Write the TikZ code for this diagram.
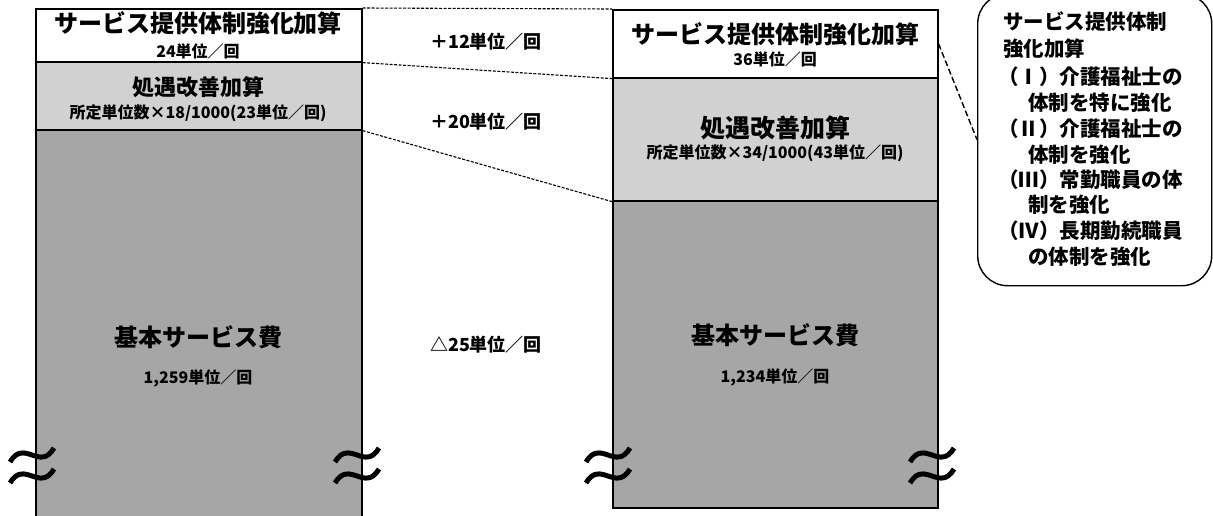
\documentclass[tikz,border=0pt]{standalone}
\usepackage{fontspec}
\setmainfont{Noto Sans CJK JP}
\begin{document}
\begin{tikzpicture}[x=1pt,y=-1pt,
  box/.style={draw=black, line width=1.6pt, inner sep=0pt, anchor=north west},
  dline/.style={line width=1.1pt, dash pattern=on 3pt off 1.5pt},
  cline/.style={line width=1.4pt, dash pattern=on 6pt off 3pt},
  big/.style={inner sep=0pt, font=\fontsize{24}{28}\selectfont\bfseries},
  mid/.style={inner sep=0pt, font=\fontsize{18}{22}\selectfont\bfseries},
  small/.style={inner sep=0pt, font=\fontsize{16}{19}\selectfont\bfseries},
  note/.style={inner sep=0pt, anchor=west, font=\fontsize{20.5}{24}\selectfont\bfseries},
  wave/.pic={\draw[line width=5pt] (-22,7) .. controls (-8,-17) and (8,17) .. (22,-7);}
]
\definecolor{lgray}{gray}{0.82}
\definecolor{mgray}{gray}{0.65}
\useasboundingbox (0,0) rectangle (1213,515);
\clip (0,0) rectangle (1213,515);
\fill[white] (0,0) rectangle (1213,515);

% left column
\node[box, fill=mgray, minimum width=326pt, minimum height=400pt] (L3) at (35,129) {};
\node[box, fill=lgray, minimum width=326pt, minimum height=68pt] (L2) at (35,61) {};
\node[box, fill=white, minimum width=326pt, minimum height=53pt] (L1) at (35,8) {};

% right column
\node[box, fill=mgray, minimum width=325pt, minimum height=307pt] (R3) at (612,200) {};
\node[box, fill=lgray, minimum width=325pt, minimum height=123pt] (R2) at (612,77) {};
\node[box, fill=white, minimum width=325pt, minimum height=68pt] (R1) at (612,9) {};

% callout
\node[box, line width=1.4pt, rounded corners=30pt, minimum width=234pt, minimum height=292pt] (C) at (977,-7) {};

% dashed connectors
\draw[dline] (L1.north east) -- (R1.north west);
\draw[dline] (L1.south east) -- (R1.south west);
\draw[dline] (L2.south east) -- (R2.south west);
\draw[cline] (R1.east) -- (C.west);

% left texts
\node[big] (lt1) at (198,23) {サービス提供体制強化加算};
\node[small] (lt2) at (198,51) {24単位／回};
\node[big, font=\fontsize{22}{26}\selectfont\bfseries] (lt3) at (198,87) {処遇改善加算};
\node[small] (lt4) at (198,113) {所定単位数×18/1000(23単位／回)};
\node[big] (lt5) at (198,337) {基本サービス費};
\node[small] (lt6) at (198,378) {1,259単位／回};

% right texts
\node[big] (rt1) at (775,34) {サービス提供体制強化加算};
\node[small] (rt2) at (775,59) {36単位／回};
\node[big, font=\fontsize{25}{29}\selectfont\bfseries] (rt3) at (775,128) {処遇改善加算};
\node[small] (rt4) at (775,153) {所定単位数×34/1000(43単位／回)};
\node[big] (rt5) at (775,335) {基本サービス費};
\node[small] (rt6) at (775,377) {1,234単位／回};

% middle texts
\node[mid] (m1) at (486,42) {＋12単位／回};
\node[mid] (m2) at (486,122) {＋20単位／回};
\node[mid] (m3) at (486,345) {△25単位／回};

% callout texts
\node[note] (c1) at (1003,22) {サービス提供体制};
\node[note] (c2) at (1003,49) {強化加算};
\node[note] (c3) at (998,77) {（Ⅰ）介護福祉士の};
\node[note] (c4) at (1028,103) {体制を特に強化};
\node[note] (c5) at (998,129) {（Ⅱ）介護福祉士の};
\node[note] (c6) at (1028,155) {体制を強化};
\node[note] (c7) at (998,180) {（Ⅲ）常勤職員の体};
\node[note] (c8) at (1028,205) {制を強化};
\node[note] (c9) at (998,231) {（Ⅳ）長期勤続職員};
\node[note] (c10) at (1028,257) {の体制を強化};

% break marks
\foreach \x in {32,357,608,932}{
  \pic at (\x,455) {wave};
  \pic at (\x,476) {wave};
}
\end{tikzpicture}
\end{document}
